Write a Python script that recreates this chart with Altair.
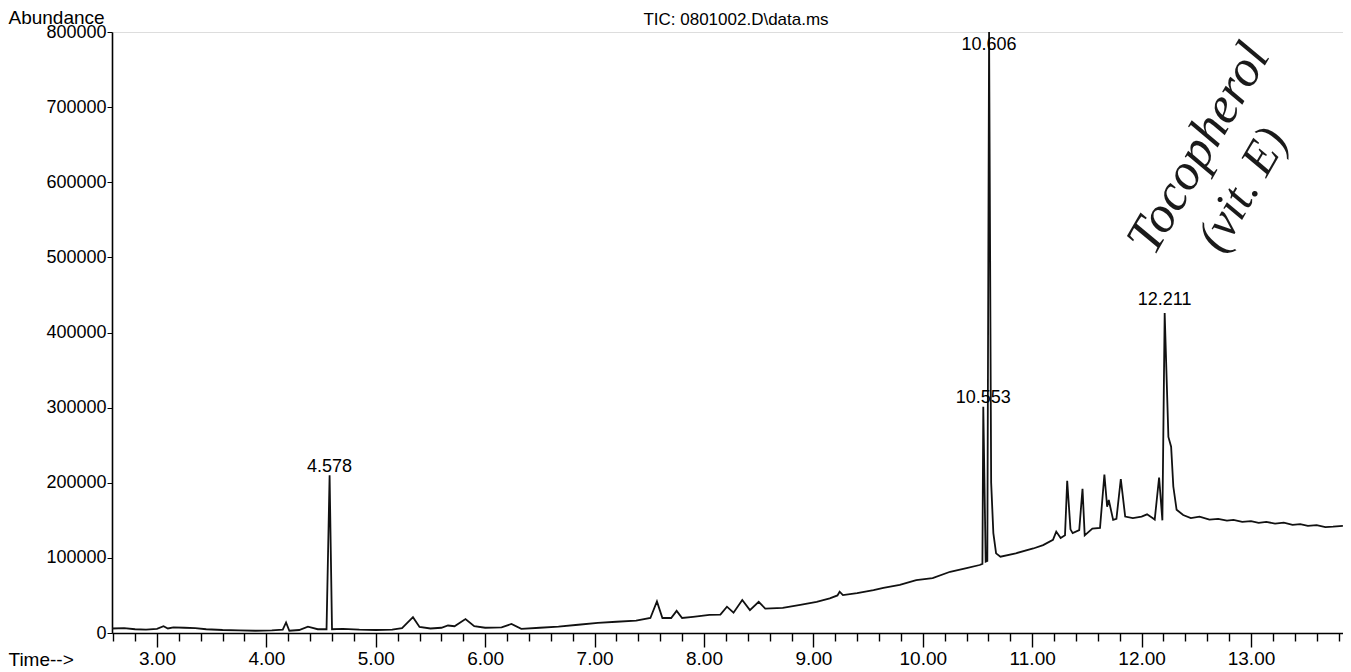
import altair as alt
import pandas as pd

# ---- TIC trace (time in minutes, abundance) ----
time_min = [
    2.59, 2.70, 2.80, 2.90, 3.00, 3.06, 3.10, 3.15, 3.25, 3.35, 3.45, 3.60, 3.75, 3.90,
    4.05, 4.15, 4.18, 4.21, 4.30, 4.38, 4.47, 4.55, 4.578, 4.60, 4.70, 4.85, 5.00, 5.15,
    5.24, 5.34, 5.40, 5.50, 5.60, 5.66, 5.72, 5.82, 5.90, 6.00, 6.15, 6.24, 6.33, 6.50,
    6.67, 6.85, 7.03, 7.20, 7.38, 7.51, 7.57, 7.62, 7.70, 7.75, 7.80, 7.90, 8.05, 8.15,
    8.21, 8.27, 8.35, 8.42, 8.50, 8.56, 8.72, 8.88, 9.03, 9.15, 9.22, 9.24, 9.27, 9.40,
    9.55, 9.64, 9.79, 9.94, 10.09, 10.25, 10.40, 10.52, 10.545, 10.553, 10.575, 10.59,
    10.606, 10.625, 10.645, 10.67, 10.71, 10.85, 11.01, 11.10, 11.19, 11.22, 11.26, 11.30,
    11.32, 11.35, 11.37, 11.43, 11.46, 11.48, 11.55, 11.62, 11.66, 11.685, 11.70, 11.74,
    11.77, 11.81, 11.85, 11.92, 12.00, 12.05, 12.10, 12.12, 12.16, 12.19, 12.211, 12.245,
    12.27, 12.29, 12.32, 12.38, 12.45, 12.53, 12.62, 12.70, 12.78, 12.84, 12.92, 13.00,
    13.07, 13.14, 13.22, 13.30, 13.38, 13.45, 13.52, 13.60, 13.68, 13.75, 13.84,
]
abundance = [
    6000, 6500, 5000, 4500, 5500, 9000, 6000, 7500, 7000, 6500, 5000, 4000, 3500, 3000,
    3500, 4500, 14000, 3000, 4000, 8500, 5000, 5000, 210000, 5000, 5500, 4500, 4000, 4500,
    6500, 21000, 8000, 6000, 7000, 10000, 9000, 18500, 9000, 7000, 7500, 12000, 5500, 7000,
    8500, 11000, 13500, 15000, 16500, 20000, 42000, 20000, 20000, 29500, 20000, 21500, 24000, 24500,
    35000, 27000, 44000, 30500, 41500, 32500, 33500, 37500, 41500, 46000, 50000, 55000, 50500, 53000,
    57000, 60000, 64000, 70500, 73000, 81500, 86500, 90500, 92000, 301000, 95000, 96000,
    800000, 200000, 133000, 106000, 101500, 106000, 112500, 117000, 124000, 135000, 126500, 130000,
    202500, 138000, 133000, 137000, 192000, 130000, 139000, 140000, 211000, 168000, 177000, 150500,
    152000, 205000, 155000, 153000, 155000, 158000, 153000, 151000, 207000, 150000, 426000, 261000,
    248000, 195000, 164000, 157000, 153000, 155000, 151000, 152000, 149500, 150500, 148000, 149000,
    146500, 148000, 145500, 147000, 144000, 145000, 142500, 143500, 141000, 141500, 142500,
]

# ---- peak labels ----
peak_times = [4.578, 10.553, 10.606, 12.211]
peak_text = ["4.578", "10.553", "10.606", "12.211"]
peak_label_abund = [221000, 312800, 782600, 443000]

# ---- handwritten note ----
note_text = ["Tocopherol", "(vit. E)"]
note_time = [12.52, 12.93]
note_abund = [645000, 590000]
note_size = [52, 48]

chart_title = "TIC: 0801002.D\\data.ms"

x_ticks = [round(2.6 + 0.2 * i, 1) for i in range(57)]
y_ticks = [0, 100000, 200000, 300000, 400000, 500000, 600000, 700000, 800000]

trace = pd.DataFrame({"t": time_min, "a": abundance})
peaks = pd.DataFrame({"t": peak_times, "a": peak_label_abund, "lab": peak_text})
notes = pd.DataFrame({"t": note_time, "a": note_abund, "lab": note_text, "s": note_size})
titles = pd.DataFrame({"lab": [chart_title]})

FONT = "Liberation Sans"
is_major = "abs(datum.value - round(datum.value)) < 0.01"

x_scale = alt.Scale(domain=[2.589, 13.841], nice=False, zero=False)
y_scale = alt.Scale(domain=[0, 800000], nice=False, zero=False)

x_axis = alt.Axis(
    values=x_ticks,
    labelExpr=f"{is_major} ? format(datum.value, '.2f') : ''",
    tickSize={"condition": {"test": is_major, "value": 14}, "value": 8},
    labelPadding=2,
    labelOverlap=False,
    labelFlush=False,
    labelFont=FONT,
    labelFontSize=19,
    labelColor="black",
    tickColor="black",
    domainColor="black",
    domainWidth=1.6,
    tickWidth=1.4,
    grid=False,
    title="Time-->",
    titleFont=FONT,
    titleFontSize=19,
    titleFontWeight="normal",
    titleColor="black",
    titleAngle=0,
    titleAlign="left",
    titleBaseline="middle",
    titleX=-104,
    titleY=26,
)
y_axis = alt.Axis(
    values=y_ticks,
    format="d",
    tickSize=5,
    labelPadding=1,
    labelFont=FONT,
    labelFontSize=18,
    labelColor="black",
    tickColor="black",
    domainColor="black",
    domainWidth=1.6,
    grid=False,
    title="Abundance",
    titleFont=FONT,
    titleFontSize=19,
    titleFontWeight="normal",
    titleColor="black",
    titleAngle=0,
    titleAlign="left",
    titleBaseline="alphabetic",
    titleX=-104,
    titleY=-9,
)


def xe():
    return alt.X("t:Q", scale=x_scale, axis=x_axis)


def ye():
    return alt.Y("a:Q", scale=y_scale, axis=y_axis)


line = alt.Chart(trace).mark_line(color="#111111", strokeWidth=1.8, clip=True).encode(
    x=xe(), y=ye(), order="t:Q"
)

labels = alt.Chart(peaks).mark_text(
    font=FONT, fontSize=18, color="black", align="center", baseline="middle"
).encode(x=xe(), y=ye(), text="lab:N")

note = alt.Chart(notes).mark_text(
    font="Liberation Serif", fontStyle="italic", color="#1a1a1a",
    align="center", baseline="middle", angle=300,
).encode(
    x=xe(), y=ye(), text="lab:N",
    size=alt.Size("s:Q", scale=None, legend=None),
)

title_mark = alt.Chart(titles).mark_text(
    font=FONT, fontSize=17, color="black", align="center", baseline="middle"
).encode(x=alt.value(624), y=alt.value(-12), text="lab:N")

chart = (
    alt.layer(line, labels, note, title_mark)
    .properties(
        width=1231,
        height=601,
        padding={"left": 104, "top": 24, "right": 0, "bottom": 38},
        autosize=alt.AutoSizeParams(type="none"),
    )
    .configure_view(strokeWidth=0, strokeOpacity=0)
    .configure(background="white")
)

chart.save("out.html", embed_options={"renderer": "svg", "actions": False})
